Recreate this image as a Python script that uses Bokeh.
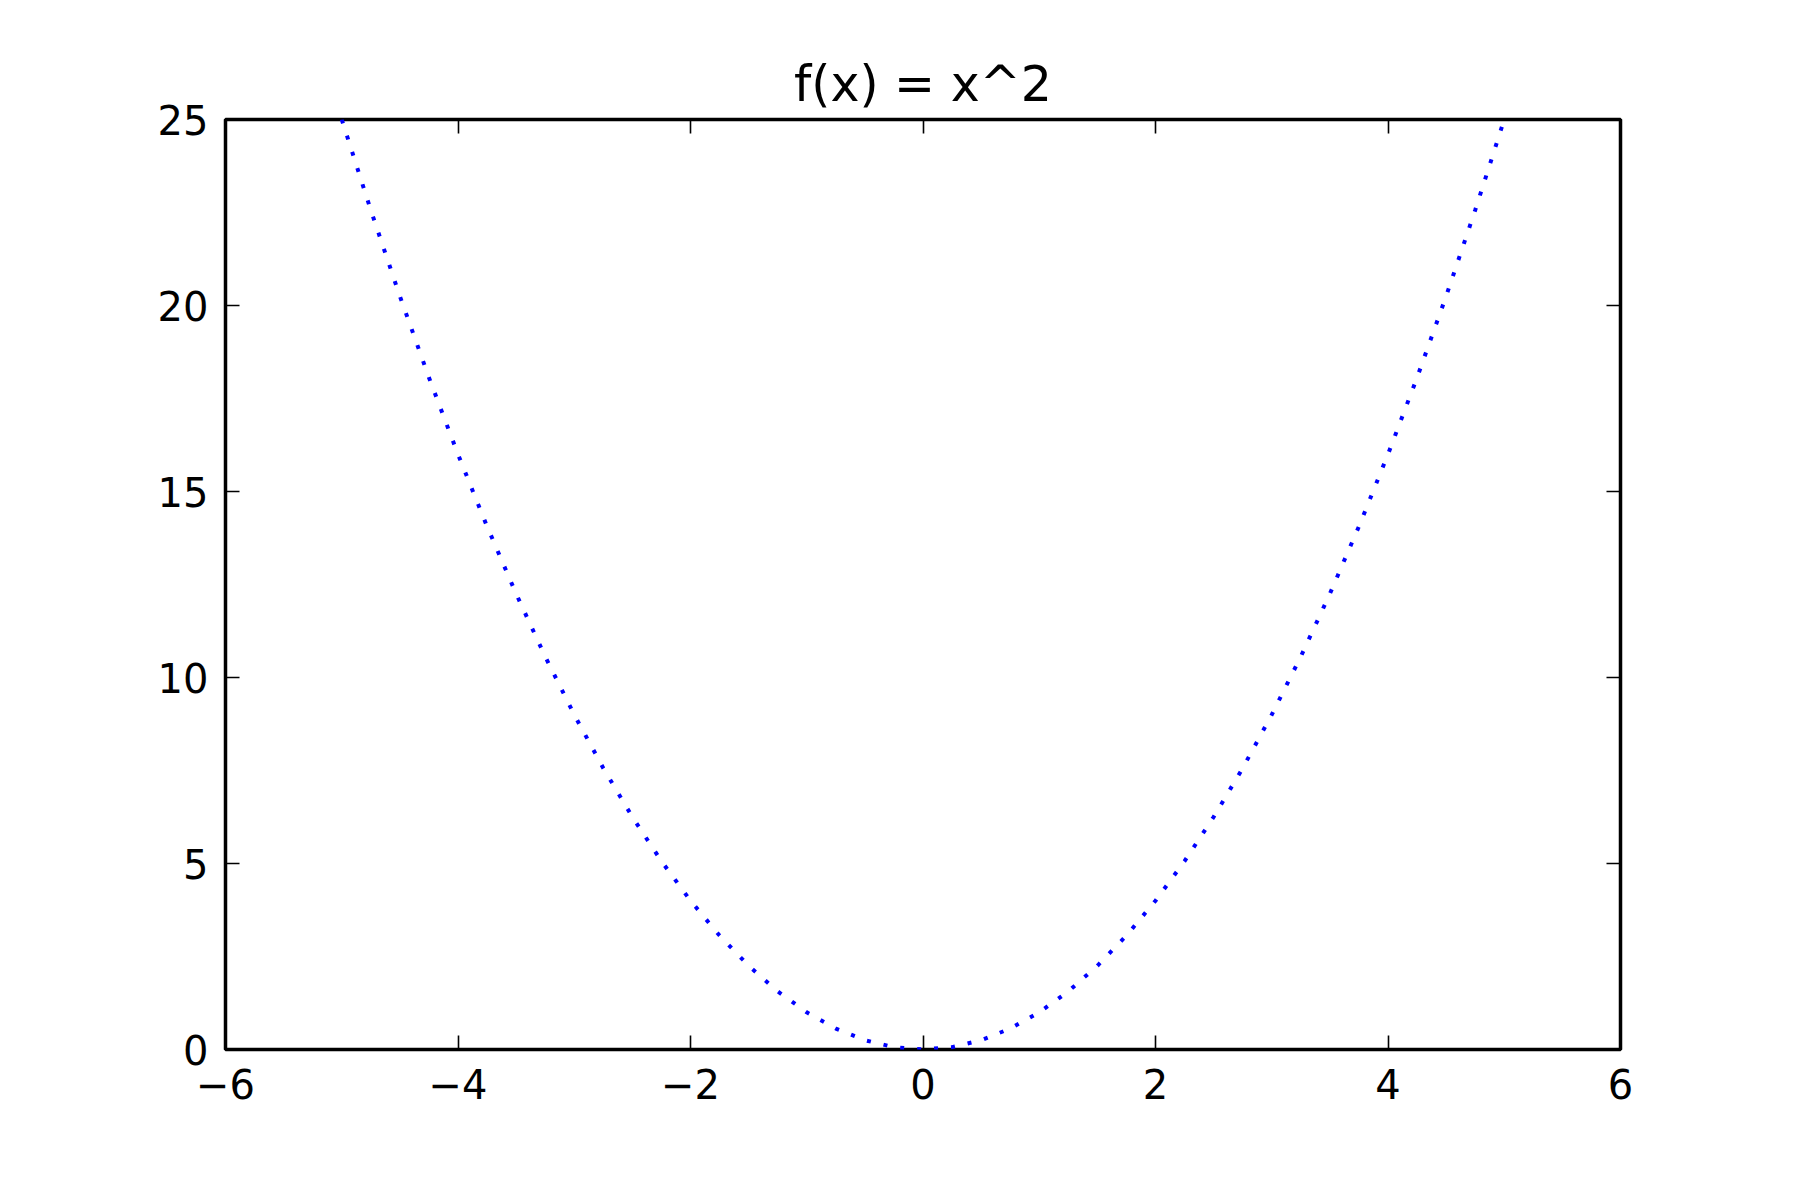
from bokeh.plotting import figure
from bokeh.models import LinearAxis, FixedTicker, Range1d, Title
from bokeh.embed import file_html
from bokeh.resources import INLINE

# ---- data ----
x_vals = [-5.0, -4.75, -4.5, -4.25, -4.0, -3.75, -3.5, -3.25, -3.0, -2.75, -2.5,
          -2.25, -2.0, -1.75, -1.5, -1.25, -1.0, -0.75, -0.5, -0.25, 0.0,
          0.25, 0.5, 0.75, 1.0, 1.25, 1.5, 1.75, 2.0, 2.25, 2.5,
          2.75, 3.0, 3.25, 3.5, 3.75, 4.0, 4.25, 4.5, 4.75, 5.0]
y_vals = [25.0, 22.5625, 20.25, 18.0625, 16.0, 14.0625, 12.25, 10.5625, 9.0, 7.5625, 6.25,
          5.0625, 4.0, 3.0625, 2.25, 1.5625, 1.0, 0.5625, 0.25, 0.0625, 0.0,
          0.0625, 0.25, 0.5625, 1.0, 1.5625, 2.25, 3.0625, 4.0, 5.0625, 6.25,
          7.5625, 9.0, 10.5625, 12.25, 14.0625, 16.0, 18.0625, 20.25, 22.5625, 25.0]
x_ticks = [-6, -4, -2, 0, 2, 4, 6]
x_tick_labels = ["\u22126", "\u22124", "\u22122", "0", "2", "4", "6"]
y_ticks = [0, 5, 10, 15, 20, 25]
y_tick_labels = ["0", "5", "10", "15", "20", "25"]
title_text = "f(x) = x^2"

FONT = "DejaVu Sans"
W, H = 1784, 1184

p = figure(width=W, height=H, output_backend="svg", toolbar_location=None,
           x_range=Range1d(-6, 6), y_range=Range1d(0, 25),
           x_axis_location=None, y_axis_location=None,
           min_border_left=225, min_border_right=164,
           min_border_top=119, min_border_bottom=135)
p.background_fill_color = "white"
p.border_fill_color = "white"
p.grid.visible = False
p.outline_line_color = "black"
p.outline_line_width = 3.5

def style_axis(ax, ticks, labels, show_labels, standoff):
    ax.ticker = FixedTicker(ticks=ticks)
    ax.major_label_overrides = {t: l for t, l in zip(ticks, labels)}
    ax.axis_line_color = None
    ax.major_tick_in = 14
    ax.major_tick_out = 0
    ax.major_tick_line_width = 1.6
    ax.major_tick_line_color = "black"
    ax.minor_tick_line_color = None
    ax.major_label_text_font = FONT
    ax.major_label_standoff = standoff
    if show_labels:
        ax.major_label_text_font_size = "40px"
        ax.major_label_text_color = "black"
    else:
        ax.major_label_text_font_size = "0px"
        ax.major_label_text_color = None

bottom = LinearAxis()
style_axis(bottom, x_ticks, x_tick_labels, True, 19)
p.add_layout(bottom, "below")
left = LinearAxis()
style_axis(left, y_ticks, y_tick_labels, True, 17)
p.add_layout(left, "left")
top = LinearAxis()
style_axis(top, x_ticks, x_tick_labels, False, 0)
p.add_layout(top, "above")
right = LinearAxis()
style_axis(right, y_ticks, y_tick_labels, False, 0)
p.add_layout(right, "right")

p.title = Title(text=title_text, align="center", text_font=FONT,
                text_font_size="49px", text_font_style="normal",
                text_color="black", standoff=14)

p.line(x_vals, y_vals, line_color="#0000ff", line_width=4, line_dash="4 13")

open("out.html", "w").write(file_html(p, INLINE))
